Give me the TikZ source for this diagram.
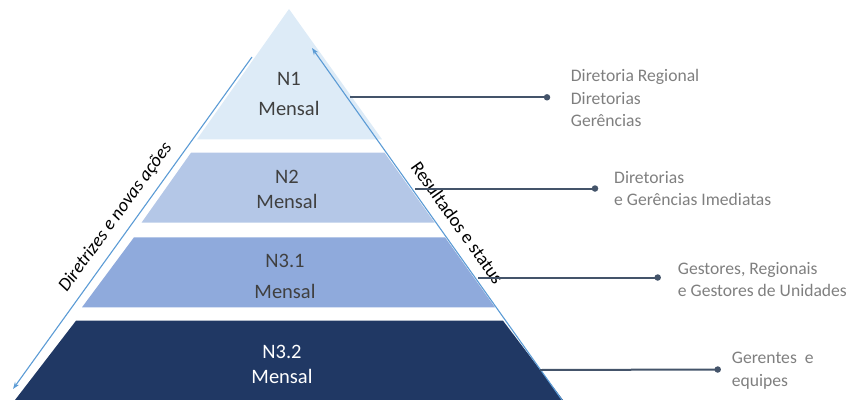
\documentclass[tikz,border=0pt]{standalone}
\usepackage{fontspec}
\setmainfont{Carlito}
\usetikzlibrary{arrows.meta}
\definecolor{bandA}{HTML}{DDEBF7}
\definecolor{bandB}{HTML}{B4C7E7}
\definecolor{bandC}{HTML}{8FAADC}
\definecolor{bandD}{HTML}{203864}
\definecolor{flowblue}{HTML}{5B9BD5}
\definecolor{connclr}{HTML}{44546A}
\definecolor{sidegray}{HTML}{7F7F7F}
\definecolor{lbldark}{HTML}{404040}
\newcommand\leftlines[1]{\vtop{\halign{##\hfil\cr#1\crcr}}}
\newcommand\midlines[1]{\vtop{\halign{\hfil##\hfil\cr#1\crcr}}}
\tikzset{
  bandlbl/.style={inner sep=0pt, anchor=base, text=lbldark},
  sidetxt/.style={inner sep=0pt, anchor=base west, text=sidegray, font=\fontsize{17.6}{22.5}\selectfont},
  flow/.style={draw=flowblue, line width=1.1pt, -{Stealth[length=7pt,width=5pt]}},
  conn/.style={draw=connclr, line width=2pt},
  dotend/.style={circle, fill=connclr, inner sep=0pt, minimum size=6.5pt},
  diag/.style={inner sep=0pt, text=black, font=\fontsize{18.6}{22}\selectfont}
}
\begin{document}
\begin{tikzpicture}[x=1pt,y=-1pt]
\useasboundingbox (0,0) rectangle (851,399);
% bands
\fill[bandA] (289,9) -- (382,139.3) -- (197,139.3) -- cycle;
\fill[bandB] (191,152.7) -- (384.5,152.7) -- (434.7,222.7) -- (141.5,222.7) -- cycle;
\fill[bandC] (134,237.3) -- (445,237.3) -- (495,307.3) -- (82,307.3) -- cycle;
\fill[bandD] (76,320.7) -- (503,320.7) -- (563,400) -- (15,400) -- cycle;
% band labels
\node[bandlbl, font=\fontsize{20.5}{30}\selectfont] (n1) at (289,85) {\midlines{N1\cr Mensal}};
\node[bandlbl, font=\fontsize{20.5}{25}\selectfont] (n2) at (287,183) {\midlines{N2\cr Mensal}};
\node[bandlbl, font=\fontsize{20.5}{31}\selectfont] (n31) at (285,267.5) {\midlines{N3.1\cr Mensal}};
\node[bandlbl, font=\fontsize{20.5}{25}\selectfont, text=white] (n32) at (282,358.5) {\midlines{N3.2\cr Mensal}};
% flow arrows
\coordinate (dtop) at (252,57);
\coordinate (dbot) at (13,389);
\coordinate (rbot) at (562,400);
\coordinate (rtop) at (312,48);
\draw[flow] (dtop) -- (dbot);
\draw[flow] (rbot) -- (rtop);
\node[diag, font=\itshape\fontsize{18.6}{22}\selectfont, rotate=54] (dtxt) at (115.6,217.3) {Diretrizes e novas ações};
\node[diag, rotate=-54.5] (rtxt) at (457.5,222.7) {Resultados e status};
% connectors
\coordinate (s1) at (350,97.3);
\coordinate (s2) at (415,188.5);
\coordinate (s3) at (478,277.5);
\coordinate (s4) at (540,370);
\node[dotend] (d1) at (547,97.3) {};
\node[dotend] (d2) at (595,188.5) {};
\node[dotend] (d3) at (657.7,277.5) {};
\node[dotend] (d4) at (717.7,369.5) {};
\draw[conn] (s1) -- (d1.center);
\draw[conn] (s2) -- (d2.center);
\draw[conn] (s3) -- (d3.center);
\draw[conn] (s4) -- (d4.center);
% side texts
\node[sidetxt] (t1) at (570.7,81.5) {\leftlines{Diretoria Regional\cr Diretorias\cr Gerências}};
\node[sidetxt] (t2) at (614,183) {\leftlines{Diretorias\cr e Gerências Imediatas}};
\node[sidetxt] (t3) at (677.7,274) {\leftlines{Gestores, Regionais\cr e Gestores de Unidades}};
\node[sidetxt] (t4) at (731.7,363.5) {\leftlines{Gerentes\ \ e\cr equipes}};
\end{tikzpicture}
\end{document}
